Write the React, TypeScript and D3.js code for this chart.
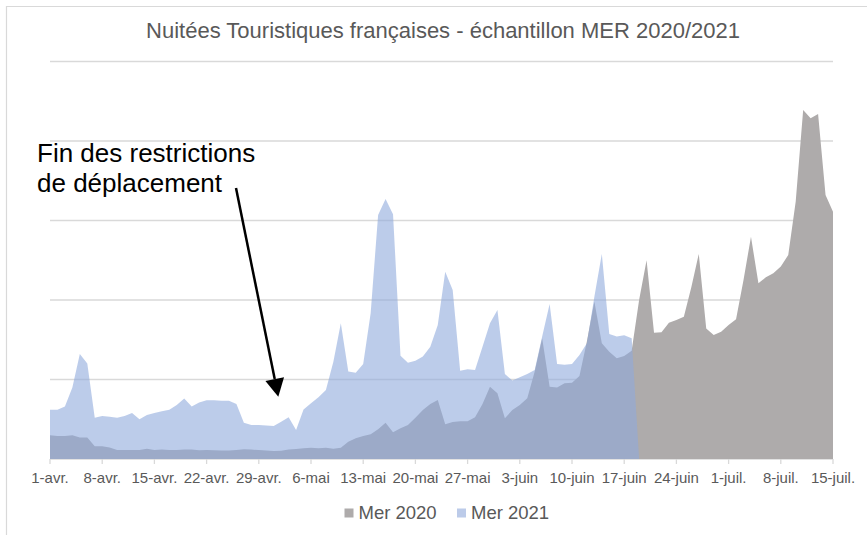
import * as d3 from "d3";

// one value per day, from 1 April (index 0) to 15 July (index 105)
const mer2020 = [
  14.9, 14.5, 14.5, 15, 13.6, 13.6, 8, 8, 7.3, 5.7,
  5.7, 5.7, 5.7, 6.5, 5.7, 6, 5.7, 5.7, 5.9, 5.9,
  5.5, 5.7, 5.5, 5.3, 5.3, 5.6, 6.2, 5.9, 5.6, 5.4,
  5.0, 5.2, 6.0, 6.3, 6.7, 7.0, 6.8, 7.1, 6.5, 7,
  10.9, 13, 14.5, 15.5, 18.7, 22.8, 16.8, 19.3, 21.4, 26,
  30.8, 34.6, 37.1, 21.8, 23.3, 23.7, 23.7, 26.2, 34.6, 45.5,
  41.3, 25.6, 30.8, 34, 38.2, 55, 75.9, 45.5, 45, 47.6,
  48, 52.2, 74, 99, 72.8, 67.5, 63.3, 64.8, 68.1, 100,
  125, 79.4, 79.7, 85.7, 87.4, 89.5, 108, 129, 82, 78,
  80, 84.3, 87.9, 112.6, 139.8, 110.5, 114.3, 116.8, 121, 128.3,
  162, 219.5, 214.3, 217, 166, 155.5,
];

const mer2021 = [
  31, 31, 33, 45, 66, 60, 26, 27, 26.6, 26,
  27, 29, 25, 27.7, 29, 30, 31, 34, 38, 33,
  35.5, 37, 37, 36.7, 36.7, 34.6, 22.8, 21.4, 21.4, 21,
  20.8, 23.5, 26.2, 18.2, 31.2, 35, 38.8, 43.4, 61.2, 85.3,
  55, 54.3, 59.7, 91.6, 153.5, 163.5, 154, 65, 60.6, 61.8,
  64.4, 70.6, 84.3, 117.8, 106.3, 55.5, 56.4, 56, 70.6, 85.3,
  93.7, 53.5, 49.3, 51.4, 53.5, 56, 77, 97.5, 59.7, 59.3,
  59.7, 65.4, 72.8, 102, 129, 78.6, 77, 77.8, 75.9, 0,
];

const tickLabels = [
  "1-avr.", "8-avr.", "15-avr.", "22-avr.", "29-avr.", "6-mai", "13-mai", "20-mai",
  "27-mai", "3-juin", "10-juin", "17-juin", "24-juin", "1-juil.", "8-juil.", "15-juil.",
];

const gridValues = [50, 100, 150, 200, 250];

const W = 867;
const H = 535;
const font = "'Liberation Sans', Arial, sans-serif";
const textColor = "#595959";
const gridColor = "#D9D9D9";

export default function App() {
  const x = d3.scaleLinear([0, 105], [50, 833]);
  const y = d3.scaleLinear([0, 250], [459, 61.5]);

  const area = d3
    .area<number>()
    .x((d, i) => x(i))
    .y0(y(0))
    .y1((d) => y(d));

  // arrow head for the annotation
  const tip = [278.3, 396.7];
  const from = [236, 188];
  const len = Math.hypot(tip[0] - from[0], tip[1] - from[1]);
  const ux = (tip[0] - from[0]) / len;
  const uy = (tip[1] - from[1]) / len;
  const bx = tip[0] - 18 * ux;
  const by = tip[1] - 18 * uy;
  const head = [
    [tip[0], tip[1]],
    [bx - 9.5 * uy, by + 9.5 * ux],
    [bx + 9.5 * uy, by - 9.5 * ux],
  ];

  return (
    <svg
      width={W}
      height={H}
      style={{ position: "absolute", left: 0, top: 0, background: "#fff" }}
      fontFamily={font}
    >
      <path d={`M6.5,${H} V6.5 H${W}`} fill="none" stroke={gridColor} strokeWidth={1.2} />

      <text x={443} y={38} textAnchor="middle" fontSize={22} fill={textColor}>
        Nuitées Touristiques françaises - échantillon MER 2020/2021
      </text>

      {gridValues.map((v) => (
        <line key={v} x1={x(0)} x2={x(105)} y1={y(v)} y2={y(v)} stroke={gridColor} strokeWidth={1.3} />
      ))}
      <line x1={x(0)} x2={x(105)} y1={y(0)} y2={y(0)} stroke={gridColor} strokeWidth={1.3} />

      <path d={area(mer2020) ?? ""} fill="#AEABAB" />
      <path d={area(mer2021) ?? ""} fill="#8FAADC" fillOpacity={0.6} />

      {tickLabels.map((t, k) => (
        <g key={t} transform={`translate(${x(k * 7)},0)`}>
          <line y1={y(0)} y2={y(0) + 5} stroke={gridColor} strokeWidth={1.3} />
          <text y={482.5} textAnchor="middle" fontSize={15} fill={textColor}>
            {t}
          </text>
        </g>
      ))}

      <rect x={344.5} y={508.5} width={9} height={9} fill="#AEABAB" />
      <text x={358.5} y={518.5} fontSize={18.5} fill={textColor}>
        Mer 2020
      </text>
      <rect x={457} y={508.5} width={9} height={9} fill="#BCCBE9" />
      <text x={471} y={518.5} fontSize={18.5} fill={textColor}>
        Mer 2021
      </text>

      <text x={37} y={162} fontSize={26} fill="#000">
        Fin des restrictions
      </text>
      <text x={37} y={192} fontSize={26} fill="#000">
        de déplacement
      </text>
      <line x1={from[0]} y1={from[1]} x2={bx} y2={by} stroke="#000" strokeWidth={2.5} />
      <polygon points={head.map((p) => p.join(",")).join(" ")} fill="#000" />
    </svg>
  );
}
